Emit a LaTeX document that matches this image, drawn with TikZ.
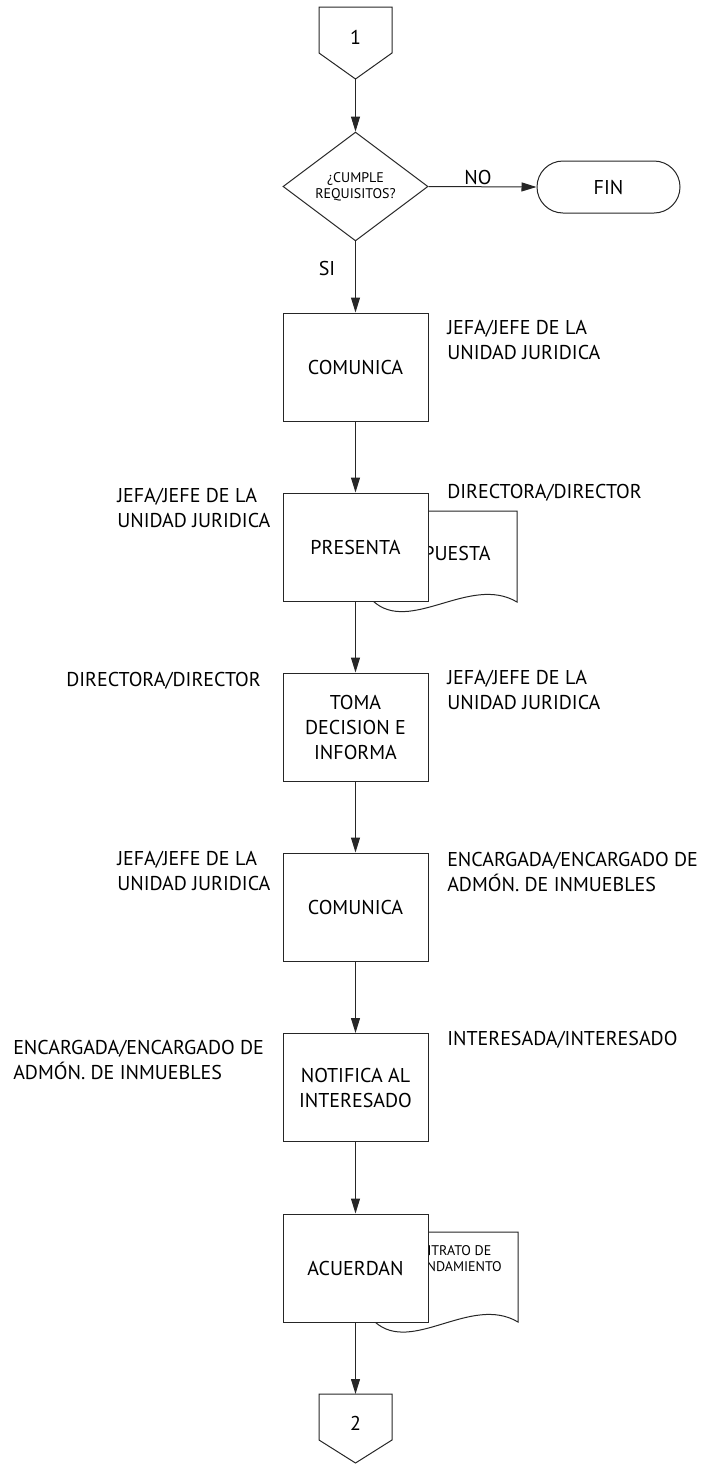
\documentclass[tikz,border=0pt]{standalone}
\usepackage{fontspec}
\setmainfont{PT Sans}
\usetikzlibrary{shapes.geometric,shapes.misc,arrows.meta}
\newcommand\fsmain{\fontsize{15}{18.75}\selectfont}
\newcommand\fssmall{\fontsize{10.5}{12}\selectfont}
\begin{document}
\begin{tikzpicture}[x=0.75pt,y=-0.75pt,
  ln/.style={draw=black!85, line width=0.75pt},
  procbox/.style={ln, fill=white, minimum width=108.75pt, minimum height=81pt, inner sep=0pt, align=center, font=\fsmain},
  txt/.style={inner sep=0pt, font=\fsmain, align=left},
  smalltxt/.style={inner sep=0pt, font=\fssmall, align=center},
  flow/.style={ln, -{Triangle[length=11.25pt,width=6.75pt]}},
  docshape/.style={ln, fill=white}
]
\useasboundingbox (0,0) rectangle (701,1464);

% off-page connector 1
\draw[ln] (319,7) -- (392,7) -- (392,53) -- (355.5,79) -- (319,53) -- cycle;
\node[txt] (c1) at (355.5,37) {1};
\coordinate (c1tip) at (355.5,79);

% decision
\node[ln, diamond, inner sep=0pt, minimum width=108.75pt, minimum height=80.25pt, font=\fssmall, align=center] (dia) at (355.5,186.5) {¿CUMPLE\\REQUISITOS?};
\node[ln, rounded rectangle, inner sep=0pt, minimum width=107.25pt, minimum height=39pt, font=\fsmain] (fin) at (608.5,187) {FIN};
\node[txt] (lno) at (478,177) {NO};
\node[txt] (lsi) at (327,268) {SI};

% documents (behind the boxes)
\draw[docshape] (373,601) -- (373,511) -- (517,511) -- (517,602) .. controls (470,574) and (410,635) .. (373,601) -- cycle;
\node[txt] (doc1) at (439,553) {PROPUESTA};
\draw[docshape] (375,1322) -- (375,1232) -- (518,1232) -- (518,1322) .. controls (471,1294) and (412,1355) .. (375,1322) -- cycle;
\node[smalltxt] (doc2) at (448,1259) {CONTRATO DE\\ARRENDAMIENTO};

% process boxes
\node[procbox] (b1) at (355.5,367) {COMUNICA};
\node[procbox] (b2) at (355.5,547) {PRESENTA};
\node[procbox] (b3) at (355.5,727) {TOMA\\DECISION E\\INFORMA};
\node[procbox] (b4) at (355.5,907) {COMUNICA};
\node[procbox] (b5) at (355.5,1087.5) {NOTIFICA AL\\INTERESADO};
\node[procbox] (b6) at (355.5,1268) {ACUERDAN};

% off-page connector 2
\draw[ln] (319,1394) -- (392,1394) -- (392,1440) -- (355.5,1463) -- (319,1440) -- cycle;
\node[txt] (c2) at (355.5,1423) {2};
\coordinate (c2top) at (355.5,1394);

% role labels
\node[txt, anchor=west] (r1) at (447,339.5) {JEFA/JEFE DE LA\\UNIDAD JURIDICA};
\node[txt, anchor=west] (r2) at (447,493) {DIRECTORA/DIRECTOR};
\node[txt, anchor=west] (l2) at (117,508) {JEFA/JEFE DE LA\\UNIDAD JURIDICA};
\node[txt, anchor=west] (l3) at (66,681) {DIRECTORA/DIRECTOR};
\node[txt, anchor=west] (r3) at (447,690) {JEFA/JEFE DE LA\\UNIDAD JURIDICA};
\node[txt, anchor=west] (l4) at (117,871) {JEFA/JEFE DE LA\\UNIDAD JURIDICA};
\node[txt, anchor=west] (r4) at (447,871.5) {ENCARGADA/ENCARGADO DE\\ADMÓN. DE INMUEBLES};
\node[txt, anchor=west] (l5) at (13,1060) {ENCARGADA/ENCARGADO DE\\ADMÓN. DE INMUEBLES};
\node[txt, anchor=west] (r5) at (447,1040) {INTERESADA/INTERESADO};

% connectors
\draw[flow] (c1tip) -- (dia.north);
\draw[flow] (dia.east) -- (fin.west);
\draw[flow] (dia.south) -- (b1.north);
\draw[flow] (b1.south) -- (b2.north);
\draw[flow] (b2.south) -- (b3.north);
\draw[flow] (b3.south) -- (b4.north);
\draw[flow] (b4.south) -- (b5.north);
\draw[flow] (b5.south) -- (b6.north);
\draw[flow] (b6.south) -- (c2top);
\end{tikzpicture}
\end{document}
